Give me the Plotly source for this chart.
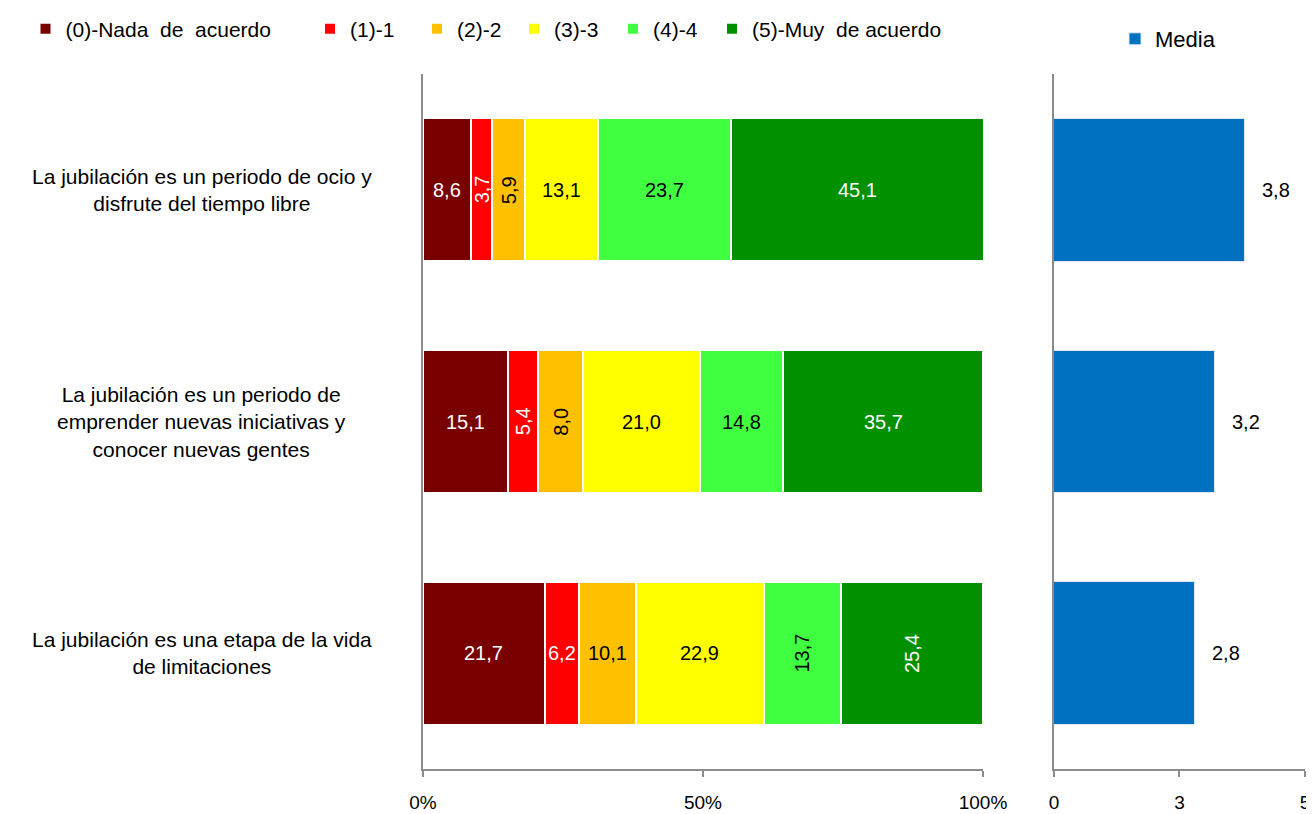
import plotly.graph_objects as go

categories = [
    "La jubilación es un periodo de ocio y<br>disfrute del tiempo libre",
    "La jubilación es un periodo de<br>emprender nuevas iniciativas y<br>conocer nuevas gentes",
    "La jubilación es una etapa de la vida<br>de limitaciones",
]
series_names = ["(0)-Nada  de  acuerdo", "(1)-1", "(2)-2", "(3)-3", "(4)-4", "(5)-Muy  de acuerdo"]
nada = [8.6, 15.1, 21.7]
uno = [3.7, 5.4, 6.2]
dos = [5.9, 8.0, 10.1]
tres = [13.1, 21.0, 22.9]
cuatro = [23.7, 14.8, 13.7]
muy = [45.1, 35.7, 25.4]
media_name = "Media"
media = [3.8, 3.2, 2.8]
pct_ticks = [0, 50, 100]
pct_ticktext = ["0%", "50%", "100%"]
media_ticks = [0, 2.5, 5]
media_ticktext = ["0", "3", "5"]

series_values = [nada, uno, dos, tres, cuatro, muy]
colors = ["#780000", "#FF0000", "#FFC000", "#FFFF00", "#40FF40", "#009000"]
text_colors = ["white", "white", "black", "black", "black", "white"]
# rotation of each value label: [series][row]
rotated = [
    [False, False, False],
    [True, True, False],
    [True, True, False],
    [False, False, False],
    [False, False, True],
    [False, False, True],
]

FONT = "Liberation Sans"
W, H = 1306, 806
legend_x_px = [17.5, 302, 409, 506, 605, 704]
legend_media_x_px = 1107


def fmt(v):
    return f"{v:.1f}".replace(".", ",")


fig = go.Figure()
legend_layouts = {}
for i, (name, vals, col) in enumerate(zip(series_names, series_values, colors)):
    key = "legend" if i == 0 else f"legend{i + 1}"
    fig.add_trace(go.Bar(
        y=categories, x=vals, name=name.replace("  ", "\u00a0 "), orientation="h",
        marker=dict(color=col, line=dict(color="white", width=2)),
        xaxis="x", yaxis="y", legend=key, hoverinfo="skip",
    ))
    legend_layouts[key] = dict(
        orientation="h", xref="container", yref="container",
        x=legend_x_px[i] / W, y=1 - 0.5 / H, xanchor="left", yanchor="top",
        font=dict(family=FONT, size=21, color="black"), bgcolor="rgba(0,0,0,0)",
    )

fig.add_trace(go.Bar(
    y=categories, x=media, name=media_name, orientation="h",
    marker=dict(color="#0070C0", line=dict(color="#DDE8F4", width=1)),
    xaxis="x2", yaxis="y2", legend="legend7", hoverinfo="skip",
))
legend_layouts["legend7"] = dict(
    orientation="h", xref="container", yref="container",
    x=legend_media_x_px / W, y=1 - 10 / H, xanchor="left", yanchor="top",
    font=dict(family=FONT, size=22, color="black"), bgcolor="rgba(0,0,0,0)",
)

annotations = []
for r, cat in enumerate(categories):
    cum = 0.0
    for si, vals in enumerate(series_values):
        v = vals[r]
        mid = cum + v / 2
        cum += v
        annotations.append(dict(
            x=mid, y=cat, xref="x", yref="y", text=fmt(v), showarrow=False,
            textangle=-90 if rotated[si][r] else 0,
            font=dict(family=FONT, size=20, color=text_colors[si]),
        ))
    annotations.append(dict(
        x=media[r], y=cat, xref="x2", yref="y2", text=fmt(media[r]), showarrow=False,
        xanchor="left", xshift=15, font=dict(family=FONT, size=20, color="black"),
    ))
    annotations.append(dict(
        x=-0.2511, y=cat, xref="paper", yref="y", text=cat, showarrow=False,
        xanchor="center", align="center",
        font=dict(family=FONT, size=21, color="black"),
    ))

axis_common = dict(
    showgrid=False, zeroline=False, showline=True, linecolor="#8C8C8C", linewidth=1.5,
    ticks="outside", tickcolor="#8C8C8C", ticklen=6, tickwidth=1.5, automargin=False,
    tickfont=dict(family=FONT, size=19, color="black"), ticklabelstandoff=9,
)
yaxis_common = dict(
    range=[2.5, -0.5], categoryorder="array", categoryarray=categories,
    showticklabels=False, showline=True, linecolor="#8C8C8C", linewidth=1.5,
    showgrid=False, zeroline=False, ticks="", automargin=False,
)

fig.update_layout(
    width=W, height=H,
    margin=dict(l=415, r=9, t=66, b=45, autoexpand=False),
    plot_bgcolor="white", paper_bgcolor="white",
    barmode="stack", bargap=0.384,
    font=dict(family=FONT, color="black"),
    xaxis=dict(domain=[0, 0.6349], range=[0, 100], tickvals=pct_ticks, ticktext=pct_ticktext,
               anchor="y", **axis_common),
    xaxis2=dict(domain=[0.7154, 1], range=[0, 5], tickvals=media_ticks, ticktext=media_ticktext,
                anchor="y2", **axis_common),
    yaxis=dict(anchor="x", **yaxis_common),
    yaxis2=dict(anchor="x2", **yaxis_common),
    annotations=annotations,
    showlegend=True,
    **legend_layouts,
)

fig.write_html("out.html")
